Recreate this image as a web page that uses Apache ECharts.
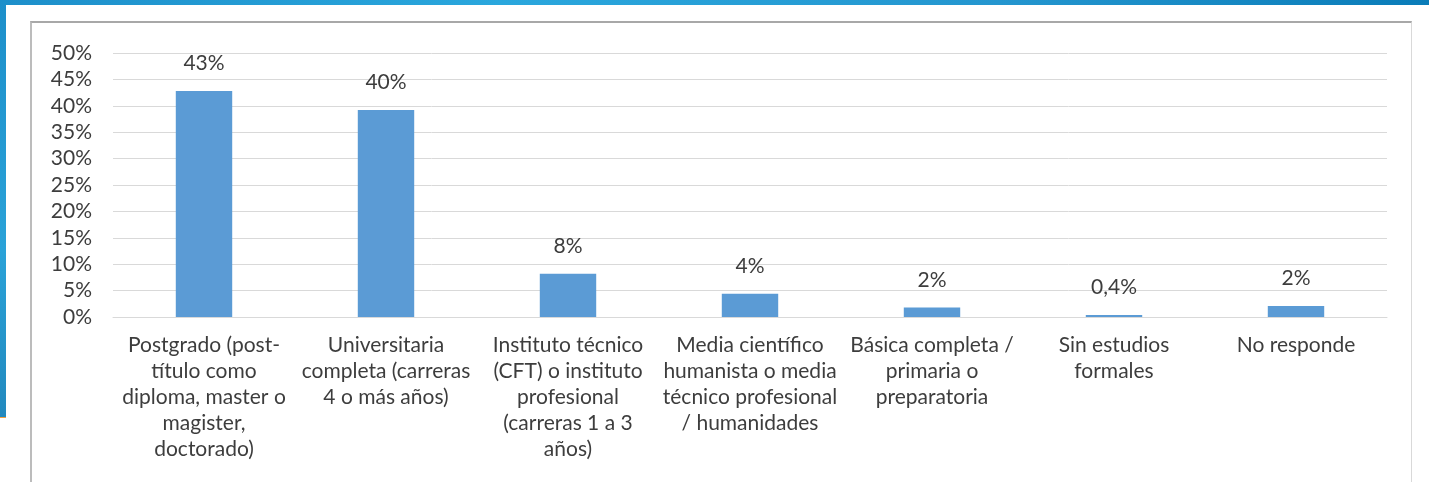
<!DOCTYPE html>
<html>
<head>
<meta charset="utf-8">
<script src="https://cdn.jsdelivr.net/npm/echarts@6/dist/echarts.min.js"></script>
<style>
  html, body { margin: 0; padding: 0; background: #fff; }
  body { width: 1429px; height: 482px; position: relative; overflow: hidden; }
  .top-band {
    position: absolute; left: 0; top: 0; width: 1429px; height: 5px;
    background: linear-gradient(90deg, #1d8fca 0%, #2aa7dd 35%, #2496cf 70%, #0a7cb8 100%);
  }
  .left-band {
    position: absolute; left: 0; top: 0; width: 6px; height: 417px;
    background: linear-gradient(180deg, #1d8fca 0%, #2aa2d8 60%, #2289be 100%);
    border-bottom: 1px solid #f0a040;
  }
  .frame {
    position: absolute; left: 30px; top: 21px; width: 1382px; height: 470px;
    border-left: 2px solid #bcbcbc; border-top: 2px solid #a8a8a8;
    border-right: 1px solid #d9d9d9; box-sizing: border-box;
  }
  #chart { position: absolute; left: 0; top: 0; width: 1429px; height: 482px; }
</style>
</head>
<body>
<div class="top-band"></div>
<div class="left-band"></div>
<div class="frame"></div>
<div id="chart"></div>
<script>
// categorías (con los saltos de línea del original)
const categories = [
  "Postgrado (post-\ntítulo como\ndiploma, master o\nmagister,\ndoctorado)",
  "Universitaria\ncompleta (carreras\n4 o más años)",
  "Instituto técnico\n(CFT) o instituto\nprofesional\n(carreras 1 a 3\naños)",
  "Media científico\nhumanista o media\ntécnico profesional\n/ humanidades",
  "Básica completa /\nprimaria o\npreparatoria",
  "Sin estudios\nformales",
  "No responde"
];
// porcentajes
const values = [42.8, 39.2, 8.2, 4.4, 1.8, 0.4, 2.1];
// etiquetas de datos
const valueLabels = ["43%", "40%", "8%", "4%", "2%", "0,4%", "2%"];

const chartNode = echarts.init(document.getElementById("chart"));
const textColor = "#3d3d3d";
const font = "Lato, 'Open Sans', sans-serif";

const option = {
  animation: false,
  grid: {
    left: 113,
    right: 42,
    top: 53,
    bottom: 165
  },
  xAxis: {
    type: "category",
    data: categories,
    axisLine: { lineStyle: { color: "#d9d9d9", width: 1 } },
    axisTick: { show: false },
    axisLabel: {
      interval: 0,
      margin: 15,
      color: textColor,
      fontFamily: font,
      fontSize: 21,
      lineHeight: 26,
      align: "center"
    }
  },
  yAxis: {
    type: "value",
    min: 0,
    max: 50,
    interval: 5,
    axisLine: { show: false },
    axisTick: { show: false },
    splitLine: { lineStyle: { color: "#d9d9d9", width: 1 } },
    axisLabel: {
      margin: 21,
      color: textColor,
      fontFamily: font,
      fontSize: 21,
      formatter: "{value}%"
    }
  },
  series: [
    {
      type: "bar",
      data: values,
      barWidth: "31%",
      itemStyle: { color: "#5b9bd5" },
      label: {
        show: true,
        position: "top",
        distance: 17,
        color: textColor,
        fontFamily: font,
        fontSize: 21,
        formatter: (p) => valueLabels[p.dataIndex]
      }
    }
  ]
};

chartNode.setOption(option, true);
</script>
</body>
</html>
